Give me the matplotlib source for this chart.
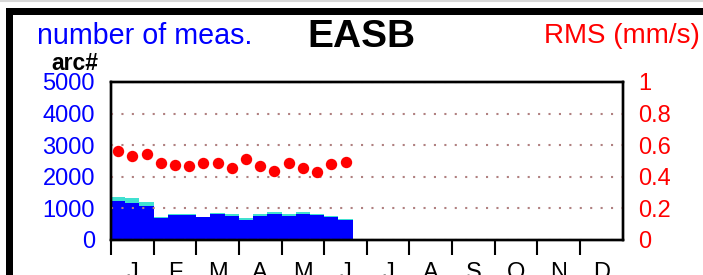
import numpy as np
import matplotlib
matplotlib.use('Agg')
import matplotlib.pyplot as plt
from matplotlib.patches import Rectangle
from matplotlib.lines import Line2D

plt.rcParams['font.family'] = ['Liberation Sans', 'DejaVu Sans']

months = ['J', 'F', 'M', 'A', 'M', 'J', 'J', 'A', 'S', 'O', 'N', 'D']
# ten-day bins from the start of the year
n_arcs = [1244, 1180, 1066, 696, 791, 801, 718, 823, 759, 642,
          750, 823, 769, 832, 791, 718, 642]
n_extra = [107, 140, 127, 41, 32, 31, 10, 31, 64, 45,
           82, 54, 54, 64, 32, 41, 32]
rms = [0.562, 0.533, 0.547, 0.486, 0.475, 0.471, 0.488, 0.488, 0.458,
       0.513, 0.469, 0.437, 0.488, 0.458, 0.431, 0.482, 0.496]
left_ticks = [0, 1000, 2000, 3000, 4000, 5000]
right_ticks = [0, 0.2, 0.4, 0.6, 0.8, 1]
right_labels = ['0', '0.2', '0.4', '0.6', '0.8', '1']

W, H = 703, 275
fig = plt.figure(figsize=(W / 100, H / 100), dpi=100)

def px(x, y):
    return x / W, 1 - y / H

# outer frame (cut by the picture edge)
fig.patches.append(Rectangle(px(8.5, 400), 900 / W, (400 - 11.5) / H,
                             transform=fig.transFigure, fill=False,
                             edgecolor='black', linewidth=7 * 0.72))
fig.lines.append(Line2D([0, 1], [1 - 1 / H, 1 - 1 / H], transform=fig.transFigure,
                        color='#d8d8d8', linewidth=1.5))

l, r, t, b = 111, 622.7, 82, 240
ax = fig.add_axes([l / W, 1 - b / H, (r - l) / W, (b - t) / H])

dek = np.arange(len(n_arcs)) / 3
ax.bar(dek, n_arcs, width=1 / 3, align='edge', color='#0000ff', linewidth=0, zorder=1)
ax.bar(dek, n_extra, width=1 / 3, bottom=n_arcs, align='edge', color='#40e0d0',
       linewidth=0, zorder=1)

ax.set_xlim(0, 12)
ax.set_ylim(0, 5000)
ax.set_yticks(left_ticks)
ax.set_yticklabels([str(v) for v in left_ticks])
ax.tick_params(axis='y', length=0, pad=11.5, labelsize=17, labelcolor='#0000ff')
ax.set_xticks(np.arange(12))
ax.set_xticklabels([])
ax.set_xticks(np.arange(12) + 0.5, minor=True)
ax.set_xticklabels(months, minor=True)
ax.tick_params(axis='x', which='major', direction='out', length=10.8, width=1.5)
ax.tick_params(axis='x', which='minor', length=0, pad=16, labelsize=17)
ax.set_axisbelow(False)
ax.yaxis.grid(True, color='#b08080', linestyle=(0, (1, 4)), linewidth=1.5)
for s in ax.spines.values():
    s.set_linewidth(1.7)

ax2 = ax.twinx()
ax2.plot(dek + 1 / 6, rms, 'o', color='#ff0000', markersize=8.2, markeredgewidth=0)
ax2.set_ylim(0, 1)
ax2.set_yticks(right_ticks)
ax2.set_yticklabels(right_labels)
ax2.tick_params(axis='y', length=0, pad=11, labelsize=17, labelcolor='#ff0000')
for s in ax2.spines.values():
    s.set_linewidth(1.7)

fig.text(*px(37, 44), 'number of meas.', color='#0000ff', fontsize=20.6, va='baseline')
fig.text(*px(700, 43), 'RMS (mm/s)', color='#ff0000', fontsize=20, va='baseline', ha='right')
fig.text(*px(361.5, 47), 'EASB', fontsize=28, fontweight='bold', va='baseline', ha='center')
fig.text(*px(51, 70), 'arc#', fontsize=16.5, fontweight='bold', va='baseline')

fig.savefig('out.png', dpi=100)
